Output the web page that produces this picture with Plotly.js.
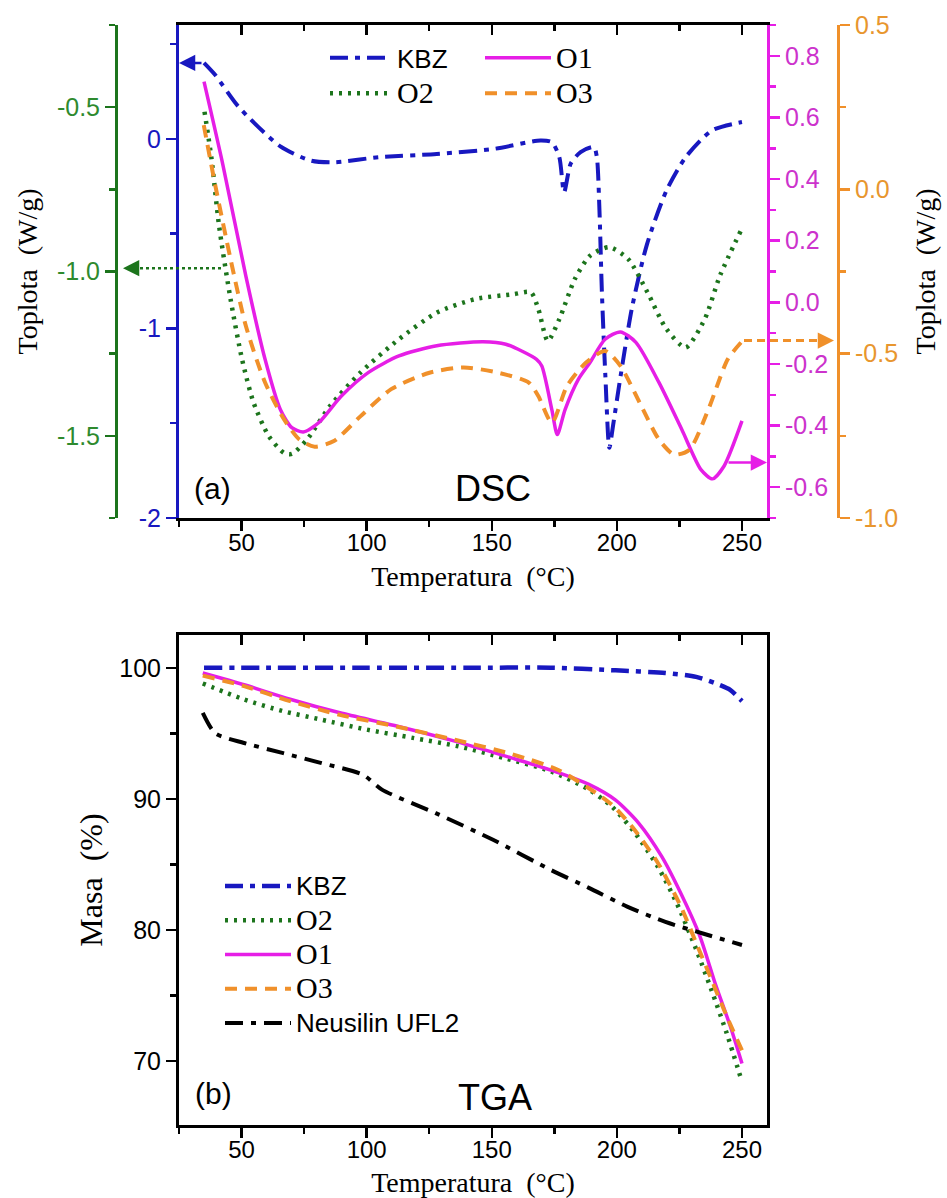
<!DOCTYPE html>
<html>
<head>
<meta charset="utf-8">
<script src="https://cdn.plot.ly/plotly-3.0.1.min.js"></script>
<style>html,body{margin:0;padding:0;background:#fff;}</style>
</head>
<body>
<div id="chart" style="width:947px;height:1198px;"></div>
<script>
// ---------- DSC (a) ----------
const dscKbzT = [35, 39.5, 48.7, 65.5, 77.7, 86.9, 105, 128, 151, 169.4, 174, 177, 178.9, 181.6, 185.5, 190.8, 192, 193, 194, 195.4, 197, 198.5, 201.5, 206, 212, 219.8, 227.5, 238, 250];
const dscKbz  = [0.40, 0.336, 0.17, -0.04, -0.115, -0.124, -0.097, -0.08, -0.053, -0.009, -0.018, -0.097, -0.283, -0.13, -0.07, -0.044, -0.097, -0.363, -0.805, -1.25, -1.63, -1.51, -1.25, -0.894, -0.558, -0.274, -0.097, 0.044, 0.088];

const dscO2T = [35.2, 38, 41, 45.6, 50.2, 54.8, 60.9, 67, 70.1, 76.2, 85.4, 97.6, 112.9, 128.1, 143.4, 158.7, 165.6, 168.6, 172.4, 177, 183.2, 189.3, 196.9, 204.5, 212.2, 219.8, 227.5, 235.1, 241.2, 249.6];
const dscO2  = [-0.514, -0.657, -0.86, -1.084, -1.267, -1.399, -1.501, -1.552, -1.555, -1.511, -1.409, -1.307, -1.206, -1.125, -1.084, -1.069, -1.063, -1.114, -1.211, -1.145, -1.023, -0.952, -0.926, -0.962, -1.063, -1.175, -1.231, -1.145, -1.013, -0.875];

const dscO1T = [35, 42.6, 51.7, 59.4, 65.5, 70.1, 74.7, 80.8, 89.9, 100.6, 112.9, 128, 146.5, 155.6, 167.9, 170, 174, 176.2, 179.3, 184.6, 189.2, 195.3, 201.4, 207.6, 216.8, 225.9, 233.6, 238.2, 242.8, 250];
const dscO1  = [0.716, 0.444, 0.086, -0.185, -0.348, -0.407, -0.421, -0.391, -0.304, -0.228, -0.174, -0.141, -0.128, -0.136, -0.185, -0.207, -0.348, -0.429, -0.348, -0.25, -0.196, -0.12, -0.096, -0.13, -0.26, -0.412, -0.543, -0.573, -0.532, -0.385];

const dscO3T = [34.9, 39.5, 45.6, 51.7, 59.4, 67, 73.1, 79.2, 86.9, 97.6, 109.8, 125.1, 138.8, 152.6, 164.8, 168.6, 174, 180.1, 187.7, 195.3, 201.4, 209.1, 216.8, 222.9, 229, 236.6, 244.3, 249.6];
const dscO3  = [0.195, 0.012, -0.212, -0.415, -0.588, -0.7, -0.761, -0.783, -0.766, -0.69, -0.608, -0.558, -0.542, -0.558, -0.588, -0.629, -0.71, -0.598, -0.527, -0.492, -0.537, -0.649, -0.761, -0.807, -0.792, -0.669, -0.517, -0.466];

// ---------- TGA (b) ----------
const tgaKbzT = [35, 60, 100, 140, 173.5, 199.5, 219.4, 231.7, 240.9, 245.4, 250];
const tgaKbz  = [100, 100, 100, 100, 100, 99.8, 99.6, 99.3, 98.7, 98.3, 97.45];

const tgaO2T = [34.5, 51, 66.3, 81.6, 100, 118.4, 136.7, 155.1, 173.5, 188.8, 198, 207.2, 216.4, 224, 231.7, 237.8, 243.9, 250];
const tgaO2  = [98.8, 97.58, 96.7, 96.05, 95.28, 94.65, 94.0, 93.1, 92.1, 90.7, 89.4, 87.4, 84.8, 82.0, 78.5, 75.4, 72.1, 68.4];

const tgaO1T = [34.5, 51, 69.4, 89.3, 112.3, 135.2, 158.2, 176.6, 188.8, 199.5, 208.7, 217.9, 225.5, 233.2, 239.3, 245.4, 250];
const tgaO1  = [99.6, 98.7, 97.6, 96.56, 95.54, 94.4, 93.1, 92.0, 91.1, 89.9, 88.15, 85.6, 82.8, 79.5, 75.9, 72.6, 69.8];

const tgaO3T = [34.5, 51, 69.4, 89.3, 112.3, 135.2, 158.2, 176.6, 188.8, 198, 207.2, 216.4, 225.5, 231.7, 237.8, 243.9, 250];
const tgaO3  = [99.4, 98.6, 97.45, 96.4, 95.5, 94.5, 93.4, 92.2, 90.8, 89.55, 87.6, 85.1, 81.8, 79.0, 76.2, 73.4, 70.8];

const tgaNeuT = [34.5, 39.5, 51, 66.3, 81.6, 98.5, 106.1, 127.6, 150.5, 173.5, 188.8, 204.1, 219.4, 234.7, 250];
const tgaNeu  = [96.56, 95.0, 94.26, 93.5, 92.74, 91.84, 90.7, 88.9, 86.87, 84.58, 83.2, 81.77, 80.6, 79.7, 78.84];

// ---------- tick labels ----------
const blueTicks = [-2, -1, 0];             const blueText = ['-2', '-1', '0'];
const greenTicks = [-1.5, -1.0, -0.5];     const greenText = ['-1.5', '-1.0', '-0.5'];
const magTicks = [-0.6, -0.4, -0.2, 0, 0.2, 0.4, 0.6, 0.8];
const magText  = ['-0.6', '-0.4', '-0.2', '0.0', '0.2', '0.4', '0.6', '0.8'];
const orTicks = [-1.0, -0.5, 0, 0.5];      const orText = ['-1.0', '-0.5', '0.0', '0.5'];

const cBlue = '#1818c0', cGreen = '#1c741c', cMag = '#e61ee6', cOr = '#f0902a';
const cGreenTxt = '#2e8a2e', cMagTxt = '#cc33cc', cOrTxt = '#e8962e';
const SANS = 'Liberation Sans, Arial, sans-serif';
const SERIF = 'Liberation Serif, Times New Roman, serif';
const serifName = s => '<span style="font-family:Liberation Serif;font-size:30px">' + s + '</span>';
const sansName = s => '<span style="font-size:26px">' + s + '</span>';

// pixel -> paper helpers (margins l=10,r=10,t=25,b=73)
const W = 947, H = 1198, ML = 10, MR = 10, MT = 25, MB = 73;
const px = x => (x - ML) / (W - ML - MR);
const py = y => (H - MB - y) / (H - MT - MB);
const xd = [px(179), px(767)];
const gPos = px(116), oPos = px(838);

const traces = [
  {x: dscKbzT, y: dscKbz, xaxis: 'x', yaxis: 'y', name: sansName('KBZ'), legend: 'legend', mode: 'lines',
   line: {color: cBlue, width: 4, dash: '18px,7px,5px,7px', shape: 'spline', smoothing: 0.7}},
  {x: dscO2T, y: dscO2, xaxis: 'x', yaxis: 'y2', name: serifName('O2'), legend: 'legend', mode: 'lines',
   line: {color: cGreen, width: 4.5, dash: '3px,6px', shape: 'spline', smoothing: 0.7}},
  {x: dscO1T, y: dscO1, xaxis: 'x', yaxis: 'y3', name: serifName('O1'), legend: 'legend2', mode: 'lines',
   line: {color: cMag, width: 3.5, shape: 'spline', smoothing: 0.7}},
  {x: dscO3T, y: dscO3, xaxis: 'x', yaxis: 'y4', name: serifName('O3'), legend: 'legend2', mode: 'lines',
   line: {color: cOr, width: 4, dash: '12px,8px', shape: 'spline', smoothing: 0.7}},
  {x: [], y: [], xaxis: 'x2', yaxis: 'y', showlegend: false, hoverinfo: 'skip'},

  {x: tgaKbzT, y: tgaKbz, xaxis: 'x3', yaxis: 'y5', name: sansName('KBZ'), legend: 'legend3', mode: 'lines',
   line: {color: cBlue, width: 4.5, dash: '18px,7px,5px,7px', shape: 'spline', smoothing: 0.7}},
  {x: tgaO2T, y: tgaO2, xaxis: 'x3', yaxis: 'y5', name: serifName('O2'), legend: 'legend3', mode: 'lines',
   line: {color: cGreen, width: 4.5, dash: '3px,6px', shape: 'spline', smoothing: 0.7}},
  {x: tgaO1T, y: tgaO1, xaxis: 'x3', yaxis: 'y5', name: serifName('O1'), legend: 'legend3', mode: 'lines',
   line: {color: cMag, width: 3.5, shape: 'spline', smoothing: 0.7}},
  {x: tgaO3T, y: tgaO3, xaxis: 'x3', yaxis: 'y5', name: serifName('O3'), legend: 'legend3', mode: 'lines',
   line: {color: cOr, width: 4, dash: '12px,8px', shape: 'spline', smoothing: 0.7}},
  {x: tgaNeuT, y: tgaNeu, xaxis: 'x3', yaxis: 'y5', name: sansName('Neusilin UFL2'), legend: 'legend3', mode: 'lines',
   line: {color: '#000000', width: 4, dash: '18px,8px,5px,8px', shape: 'spline', smoothing: 0.7}},
  {x: [], y: [], xaxis: 'x4', yaxis: 'y5', showlegend: false, hoverinfo: 'skip'}
];

const xTickFont = {family: SANS, size: 24, color: '#000'};
const baseX = {
  range: [25, 260], domain: xd, showgrid: false, zeroline: false,
  showline: true, linecolor: '#000', linewidth: 3,
  tick0: 0, dtick: 50, ticks: 'outside', ticklen: 10, tickwidth: 2.5, tickcolor: '#000',
  minor: {ticks: 'outside', dtick: 25, tick0: 0, ticklen: 6, tickwidth: 2.5, tickcolor: '#000'},
  tickfont: xTickFont, ticklabelstandoff: -9,
  title: {text: 'Temperatura  (°C)', font: {family: SERIF, size: 28, color: '#000'}, standoff: 12}
};
const topX = {
  range: [25, 260], domain: xd, side: 'top', showgrid: false, zeroline: false,
  showline: true, linecolor: '#000', linewidth: 3,
  tick0: 0, dtick: 50, ticks: 'inside', ticklen: 10, tickwidth: 2.5, tickcolor: '#000',
  minor: {ticks: 'inside', dtick: 25, tick0: 0, ticklen: 6, tickwidth: 2.5, tickcolor: '#000'},
  showticklabels: false
};
function yAx(color, txtColor, range, tv, tt, minorVals, extra) {
  return Object.assign({
    range: range, showgrid: false, zeroline: false,
    showline: true, linecolor: color, linewidth: 3,
    tickmode: 'array', tickvals: tv, ticktext: tt,
    ticks: 'outside', ticklen: 10, tickwidth: 2.5, tickcolor: color,
    minor: {ticks: 'outside', tickvals: minorVals, ticklen: 6, tickwidth: 2.5, tickcolor: color},
    tickfont: {family: SANS, size: 25, color: txtColor}
  }, extra);
}
const topDom = [py(518), py(25)];
const botDom = [py(1125), py(635)];

const legFont = {family: SANS, size: 24, color: '#000'};

const layout = {
  width: W, height: H,
  margin: {l: ML, r: MR, t: MT, b: MB},
  paper_bgcolor: '#fff', plot_bgcolor: '#fff',
  showlegend: true,
  xaxis: Object.assign({}, baseX, {anchor: 'y'}),
  xaxis2: Object.assign({}, topX, {anchor: 'y', overlaying: 'x'}),
  xaxis3: Object.assign({}, baseX, {anchor: 'y5'}),
  xaxis4: Object.assign({}, topX, {anchor: 'y5', overlaying: 'x3'}),
  yaxis: yAx(cBlue, cBlue, [-2, 0.6], blueTicks, blueText, [-1.5, -0.5, 0.5],
    {domain: topDom, anchor: 'x', side: 'left'}),
  yaxis2: yAx(cGreen, cGreenTxt, [-1.75, -0.25], greenTicks, greenText, [-1.75, -1.25, -0.75, -0.25],
    {overlaying: 'y', anchor: 'free', position: gPos, side: 'left',
     title: {text: 'Toplota  (W/g)', font: {family: SERIF, size: 28, color: '#000'}, standoff: 10}}),
  yaxis3: yAx(cMag, cMagTxt, [-0.7, 0.9], magTicks, magText, [-0.7, -0.5, -0.3, -0.1, 0.1, 0.3, 0.5, 0.7, 0.9],
    {overlaying: 'y', anchor: 'x', side: 'right'}),
  yaxis4: yAx(cOr, cOrTxt, [-1.0, 0.5], orTicks, orText, [-0.75, -0.25, 0.25],
    {overlaying: 'y', anchor: 'free', position: oPos, side: 'right',
     title: {text: 'Toplota  (W/g)', font: {family: SERIF, size: 28, color: '#000'}, standoff: 18}}),
  yaxis5: {
    domain: botDom, anchor: 'x3', range: [65.1, 102.5], showgrid: false, zeroline: false,
    showline: true, mirror: true, linecolor: '#000', linewidth: 3,
    tick0: 0, dtick: 10, ticks: 'outside', ticklen: 10, tickwidth: 2.5, tickcolor: '#000',
    minor: {ticks: 'outside', dtick: 5, tick0: 0, ticklen: 6, tickwidth: 2.5, tickcolor: '#000'},
    tickfont: {family: SANS, size: 25, color: '#000'},
    title: {text: 'Masa  (%)', font: {family: SERIF, size: 32, color: '#000'}, standoff: 8}
  },
  legend: {x: px(325), y: py(35), xanchor: 'left', yanchor: 'top', bgcolor: 'rgba(0,0,0,0)',
    font: Object.assign({}, legFont, {size: 25}), itemwidth: 62, tracegroupgap: 0},
  legend2: {x: px(480), y: py(35), xanchor: 'left', yanchor: 'top', bgcolor: 'rgba(0,0,0,0)',
    font: Object.assign({}, legFont, {size: 25}), itemwidth: 66, tracegroupgap: 0},
  legend3: {x: px(220), y: py(864), xanchor: 'left', yanchor: 'top', bgcolor: 'rgba(0,0,0,0)',
    font: legFont, itemwidth: 66, tracegroupgap: 0},
  shapes: [
    {type: 'line', xref: 'paper', yref: 'y2', x0: px(221), x1: gPos + 16 / 927, y0: -0.99, y1: -0.99,
     line: {color: cGreen, width: 2.5, dash: 'dot'}},
    {type: 'line', xref: 'paper', yref: 'y4', x0: px(744), x1: oPos - 18 / 927, y0: -0.46, y1: -0.46,
     line: {color: cOr, width: 3, dash: '8px,5px'}}
  ],
  annotations: [
    {text: '(a)', xref: 'paper', yref: 'paper', x: px(212), y: py(488), xanchor: 'center', yanchor: 'middle',
     showarrow: false, font: {family: SANS, size: 30, color: '#000'}},
    {text: 'DSC', xref: 'paper', yref: 'paper', x: px(493), y: py(488), xanchor: 'center', yanchor: 'middle',
     showarrow: false, font: {family: SANS, size: 36, color: '#000'}},
    {text: '(b)', xref: 'paper', yref: 'paper', x: px(213), y: py(1093), xanchor: 'center', yanchor: 'middle',
     showarrow: false, font: {family: SANS, size: 30, color: '#000'}},
    {text: 'TGA', xref: 'paper', yref: 'paper', x: px(495), y: py(1097), xanchor: 'center', yanchor: 'middle',
     showarrow: false, font: {family: SANS, size: 36, color: '#000'}},
    {text: '', xref: 'x', yref: 'y', x: 25, y: 0.40, ax: 24, ay: 0, showarrow: true,
     arrowhead: 2, arrowsize: 1.3, arrowwidth: 2.5, arrowcolor: cBlue},
    {text: '', xref: 'paper', yref: 'y2', x: gPos + 7 / 927, y: -0.99, ax: 16, ay: 0, showarrow: true,
     arrowhead: 2, arrowsize: 1.3, arrowwidth: 2.5, arrowcolor: cGreen},
    {text: '', xref: 'paper', yref: 'y4', x: oPos - 4 / 927, y: -0.46, ax: -16, ay: 0, showarrow: true,
     arrowhead: 2, arrowsize: 1.3, arrowwidth: 2.5, arrowcolor: cOr},
    {text: '', xref: 'x', yref: 'y3', x: 260, y: -0.52, ax: -40, ay: 0, showarrow: true,
     arrowhead: 2, arrowsize: 1.3, arrowwidth: 2.5, arrowcolor: cMag}
  ]
};

Plotly.newPlot('chart', traces, layout, {displayModeBar: false, staticPlot: true});
</script>
</body>
</html>
